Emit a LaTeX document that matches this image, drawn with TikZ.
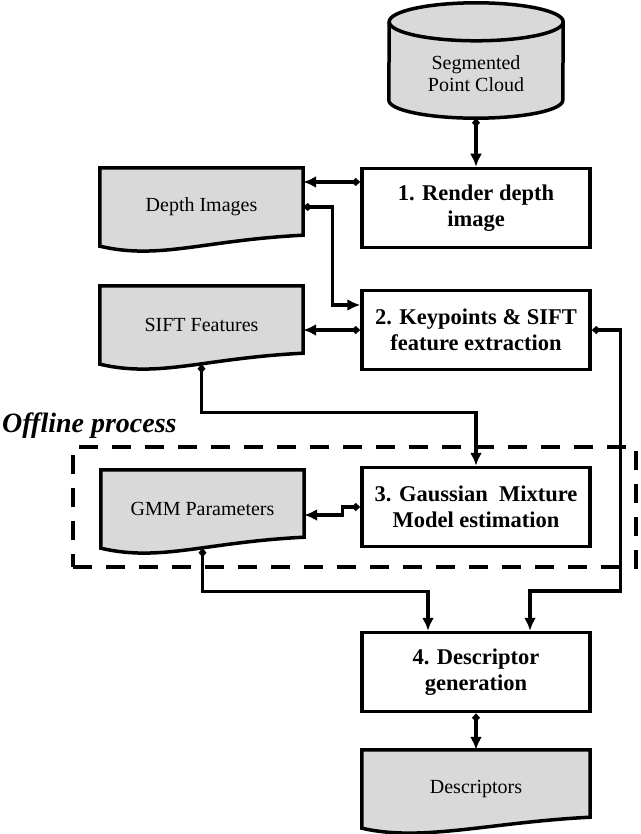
\documentclass[tikz,border=0pt]{standalone}
\usepackage{fontspec}
\setmainfont{Liberation Serif}
\usetikzlibrary{arrows.meta}
\usetikzlibrary{backgrounds}
\tikzset{
    process/.style={
        draw,
        line width=3.5pt,
        minimum width=228pt,
        minimum height=79pt,
        inner sep=0pt,
        align=center,
        font=\bfseries\fontsize{22.5}{26}\selectfont
    },
    document/.style={
        minimum width=203pt,
        minimum height=78pt,
        inner sep=0pt,
        align=center,
        font=\fontsize{20}{22}\selectfont
    },
    docline/.style={
        draw,
        line width=3.5pt,
        fill=gray!30
    },
    offline/.style={
        draw,
        line width=4.5pt,
        dash pattern=on 19pt off 14pt,
        minimum width=563pt,
        minimum height=120pt,
        inner sep=0pt
    },
    flow/.style={
        line width=3.2pt,
        {Diamond[length=9pt,width=8pt]}-{Latex[length=13pt,width=12pt]}
    }
}

\newcommand{\docshape}[1]{%
    \begin{scope}[on background layer]
        \filldraw[docline] (#1.south west) -- (#1.north west) -- (#1.north east)
            -- ([yshift=11pt]#1.south east)
            .. controls +(-100pt,-5pt) and +(60pt,-14pt) .. (#1.south west) -- cycle;
    \end{scope}}

\newcommand{\cylshape}[1]{%
    \begin{scope}[on background layer]
        \filldraw[docline] ([yshift=18pt]#1.south west)
            arc[start angle=180, end angle=360, x radius=87pt, y radius=18pt]
            -- ([yshift=8pt]#1.north east)
            arc[start angle=0, end angle=180, x radius=87pt, y radius=19pt] -- cycle;
        \draw[docline, fill=none] ([yshift=8pt]#1.north east)
            arc[start angle=0, end angle=-180, x radius=87pt, y radius=19pt];
    \end{scope}}

\begin{document}
\begin{tikzpicture}[x=1pt, y=-1pt]
    \useasboundingbox (0,0) rectangle (640,834);

    \node[document, minimum width=174pt, minimum height=88pt] (pc) at (476,74) {Segmented\\Point Cloud};
    \cylshape{pc}

    \node[process] (b1) at (476,208) {1. Render depth\\image};
    \node[process] (b2) at (476,330) {2. Keypoints \& SIFT\\feature extraction};
    \node[process] (b3) at (476,507) {3. Gaussian~ Mixture\\Model estimation};
    \node[process] (b4) at (476,672) {4. Descriptor\\generation};

    \node[document] (dimg) at (201.5,207) {Depth Images};
    \node[document] (sift) at (201.5,325) {SIFT Features};
    \node[document] (gmm) at (202.5,509) {GMM Parameters};
    \node[document, minimum width=228pt] (desc) at (476,789) {Descriptors};
    \docshape{dimg}
    \docshape{sift}
    \docshape{gmm}
    \docshape{desc}

    \node[offline] (off) at (354.5,507) {};
    \node[anchor=base west, inner sep=0pt, font=\bfseries\itshape\fontsize{28}{32}\selectfont] (offlabel) at (2,432) {Offline process};

    \draw[flow] (pc.south) -- (b1.north);
    \draw[flow] ([yshift=26pt]b1.west) -- ([yshift=26pt]b1.west -| dimg.east);
    \draw[flow] (dimg.east) -- ++(29,0) |- ([yshift=25pt]b2.west);
    \draw[flow] (b2.west) -- (b2.west -| sift.east);
    \draw[flow] (sift.south) -- ++(0,48) -| (b3.north);
    \draw[flow] (b2.east) -- ++(29,0) -- ++(0,261) -| ([xshift=54pt]b4.north);
    \draw[flow] (b3.west) -- ++(-18,0) |- ([yshift=-6pt]gmm.east);
    \draw[flow] (gmm.south) -- ++(0,43) -| ([xshift=-48pt]b4.north);
    \draw[flow] (b4.south) -- (desc.north);
\end{tikzpicture}
\end{document}
